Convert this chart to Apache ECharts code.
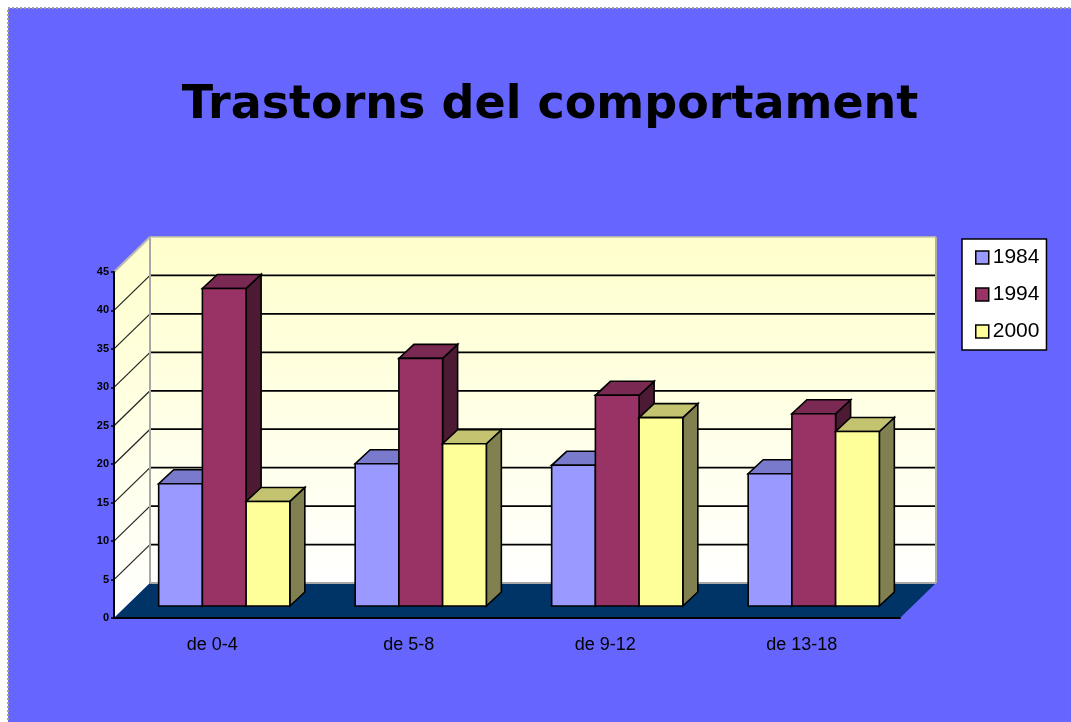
<!DOCTYPE html>
<html>
<head>
<meta charset="utf-8">
<title>Trastorns del comportament</title>
<style>
    html, body { margin: 0; padding: 0; background: #fff; }
    #chart { width: 1071px; height: 722px; filter: blur(0.5px); }
</style>
<script src="https://cdn.jsdelivr.net/npm/echarts@6/dist/echarts.min.js"></script>
</head>
<body>
<div id="chart"></div>
<script>
var categories = ['de 0-4', 'de 5-8', 'de 9-12', 'de 13-18'];
var seriesNames = ['1984', '1994', '2000'];
var values1984 = [15.9, 18.5, 18.3, 17.2];
var values1994 = [41.3, 32.2, 27.4, 25];
var values2000 = [13.6, 21.1, 24.5, 22.7];
var tickValues = [0, 5, 10, 15, 20, 25, 30, 35, 40, 45];

var myChart = echarts.init(document.getElementById('chart'));

// depth of the fake 3d box, in pixels
var wallDx = 36, wallDy = 35;
var barShiftX = 12, barShiftY = 12;
var barDx = 15, barDy = 14;

function poly(points, fill, stroke, width) {
    return {
        type: 'polygon',
        shape: { points: points },
        style: { fill: fill, stroke: stroke || 'none', lineWidth: width || 0, lineJoin: 'miter' }
    };
}

function line(x1, y1, x2, y2, color, width) {
    return {
        type: 'line',
        shape: { x1: x1, y1: y1, x2: x2, y2: y2 },
        style: { stroke: color, lineWidth: width }
    };
}

// back wall, side wall and floor, drawn once from the axis scale
function renderBox(params, api) {
    var band = api.size([1, 0])[0];
    var p0 = api.coord([0, 0]);
    var pTop = api.coord([0, 45]);
    var pEnd = api.coord([categories.length - 1, 0]);
    var left = p0[0] - band / 2;
    var right = pEnd[0] + band / 2;
    var bottom = p0[1];
    var top = pTop[1];
    var wallFill = new echarts.graphic.LinearGradient(0, 0, 0, 1, [
        { offset: 0, color: '#FFFFCC' },
        { offset: 1, color: '#FFFFFF' }
    ]);
    var children = [
        poly([[left + wallDx, top - wallDy], [right + wallDx, top - wallDy], [right + wallDx, bottom - wallDy], [left + wallDx, bottom - wallDy]], wallFill),
        poly([[left, bottom], [left + wallDx, bottom - wallDy], [left + wallDx, top - wallDy], [left, top]], wallFill),
        poly([[left, bottom], [right, bottom], [right + wallDx, bottom - wallDy], [left + wallDx, bottom - wallDy]], '#003366')
    ];
    tickValues.forEach(function (v) {
        if (v === 0 || v === 45) return;
        var y = api.coord([0, v])[1];
        children.push(line(left, y, left + wallDx, y - wallDy, '#222', 1.2));
        children.push(line(left + wallDx, y - wallDy, right + wallDx, y - wallDy, '#000', 1.8));
    });
    children.push(line(left, top, left + wallDx, top - wallDy, '#B8B8B0', 2));
    children.push(line(left + wallDx, top - wallDy, left + wallDx, bottom - wallDy, '#A8A8A8', 2));
    children.push(line(left + wallDx, top - wallDy, right + wallDx, top - wallDy, '#C8C8A0', 1.5));
    children.push(line(right + wallDx, top - wallDy, right + wallDx, bottom - wallDy, '#B0B0A0', 2));
    children.push(line(left + wallDx, bottom - wallDy, right + wallDx, bottom - wallDy, '#A8A8A8', 2));
    return { type: 'group', children: children };
}

function makeBarRenderer(slot, front, topFace, side) {
    return function (params, api) {
        var band = api.size([1, 0])[0];
        var w = band * 0.2225;
        var base = api.coord([api.value(0), 0]);
        var head = api.coord([api.value(0), api.value(1)]);
        var x0 = base[0] + barShiftX + (slot - 1.5) * w;
        var x1 = x0 + w;
        var yb = base[1] - barShiftY;
        var yt = head[1] - barShiftY;
        return {
            type: 'group',
            children: [
                poly([[x1, yb], [x1 + barDx, yb - barDy], [x1 + barDx, yt - barDy], [x1, yt]], side, '#000', 1.6),
                poly([[x0, yt], [x1, yt], [x1 + barDx, yt - barDy], [x0 + barDx, yt - barDy]], topFace, '#000', 1.6),
                poly([[x0, yb], [x1, yb], [x1, yt], [x0, yt]], front, '#000', 1.6)
            ]
        };
    };
}

function toPairs(list) {
    return list.map(function (v, i) { return [i, v]; });
}

var option = {
    animation: false,
    backgroundColor: '#FFFFFF',
    textStyle: { fontFamily: 'Liberation Sans' },
    graphic: [{
        type: 'rect',
        z: -10,
        shape: { x: 8, y: 8, width: 1070, height: 720 },
        style: { fill: '#6666FF', stroke: '#A0A0A0', lineWidth: 2, lineDash: [2, 2] }
    }],
    title: {
        text: 'Trastorns del comportament',
        left: 545,
        top: 78,
        textAlign: 'center',
        textStyle: { fontFamily: 'DejaVu Sans', fontWeight: 'bold', fontSize: 46, color: '#000' }
    },
    legend: {
        orient: 'vertical',
        left: 962,
        top: 239,
        padding: [8, 7, 8, 13],
        itemWidth: 13,
        itemHeight: 13,
        itemGap: 16,
        backgroundColor: '#FFFFFF',
        borderColor: '#000',
        borderWidth: 1.5,
        selectedMode: false,
        textStyle: { fontFamily: 'Liberation Sans', fontSize: 21, color: '#000', padding: [0, 0, 0, -1] },
        data: [
            { name: seriesNames[0], icon: 'rect', itemStyle: { color: '#9999FF', borderColor: '#000', borderWidth: 1.5 } },
            { name: seriesNames[1], icon: 'rect', itemStyle: { color: '#993366', borderColor: '#000', borderWidth: 1.5 } },
            { name: seriesNames[2], icon: 'rect', itemStyle: { color: '#FFFF99', borderColor: '#000', borderWidth: 1.5 } }
        ]
    },
    grid: { left: 114, right: 171, top: 272, bottom: 104 },
    xAxis: {
        type: 'category',
        data: categories,
        z: 5,
        axisLine: { lineStyle: { color: '#000', width: 2 } },
        axisTick: { length: 5, lineStyle: { color: '#000', width: 1.5 } },
        axisLabel: { margin: 18, fontSize: 18, color: '#000', fontFamily: 'Liberation Sans' }
    },
    yAxis: {
        type: 'value',
        min: 0,
        max: 45,
        interval: 5,
        z: 5,
        splitLine: { show: false },
        axisLine: { show: true, lineStyle: { color: '#000', width: 2 } },
        axisTick: { show: true, length: 3, lineStyle: { color: '#000', width: 1.5 } },
        axisLabel: { margin: 5, fontSize: 11, fontWeight: 'bold', color: '#000', fontFamily: 'Liberation Sans' }
    },
    series: [
        { type: 'custom', silent: true, clip: false, data: [[0, 0]], renderItem: renderBox },
        { type: 'custom', name: seriesNames[0], clip: false, data: toPairs(values1984), itemStyle: { color: '#9999FF' },
          renderItem: makeBarRenderer(0, '#9999FF', '#7A7ACC', '#50507F') },
        { type: 'custom', name: seriesNames[1], clip: false, data: toPairs(values1994), itemStyle: { color: '#993366' },
          renderItem: makeBarRenderer(1, '#993366', '#7A2952', '#4D1A33') },
        { type: 'custom', name: seriesNames[2], clip: false, data: toPairs(values2000), itemStyle: { color: '#FFFF99' },
          renderItem: makeBarRenderer(2, '#FFFF99', '#C4C470', '#808050') }
    ]
};

myChart.setOption(option);
</script>
</body>
</html>
